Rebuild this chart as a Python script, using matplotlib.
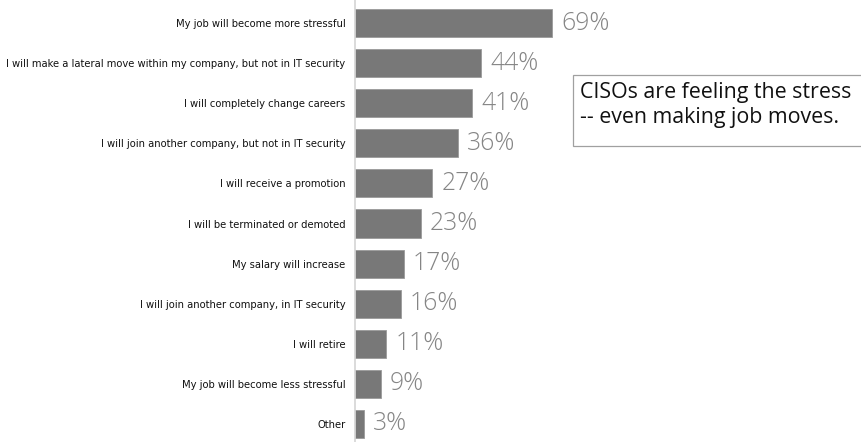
import matplotlib
matplotlib.use("Agg")
import matplotlib.pyplot as plt
from matplotlib.patches import Rectangle

categories = [
    "My job will become more stressful",
    "I will make a lateral move within my company, but not in IT security",
    "I will completely change careers",
    "I will join another company, but not in IT security",
    "I will receive a promotion",
    "I will be terminated or demoted",
    "My salary will increase",
    "I will join another company, in IT security",
    "I will retire",
    "My job will become less stressful",
    "Other",
]
values = [69, 44, 41, 36, 27, 23, 17, 16, 11, 9, 3]
note_text = "CISOs are feeling the stress\n-- even making job moves."

W, H = 861, 442
fig = plt.figure(figsize=(W / 100, H / 100), dpi=100)
ax = fig.add_axes([355 / W, 0, 1 - 355 / W, 1])

y = list(range(len(categories)))
ax.barh(y, values, height=0.7, color="#787878", edgecolor="#9a9a9a", linewidth=0.6)
ax.set_ylim(10.45, -0.575)
ax.set_xlim(0, 177.2)

for yi, v in zip(y, values):
    ax.text(v + 3.3, yi, f"{v}%", va="center", ha="left", fontsize=17.8,
            color="#858585", family="Open Sans", fontweight="light")

ax.set_yticks(y)
ax.set_yticklabels(categories, fontsize=7.2, color="#111111", family="Liberation Sans Narrow")
ax.tick_params(axis="y", length=0, pad=7)
ax.set_xticks([])
for s in ["top", "right", "bottom"]:
    ax.spines[s].set_visible(False)
ax.spines["left"].set_color("#d4d4d4")
ax.spines["left"].set_linewidth(1.2)

# annotation box
fig.patches.append(Rectangle((573 / W, 1 - 146 / H), (W - 573 + 5) / W, 71 / H,
                             transform=fig.transFigure, facecolor="white",
                             edgecolor="#a0a0a0", linewidth=0.9))
fig.text(580 / W, 1 - 105 / H, note_text, fontsize=15.4, color="#111111",
         family="Open Sans", va="center", ha="left", linespacing=1.2)

fig.savefig("out.png", dpi=100)
